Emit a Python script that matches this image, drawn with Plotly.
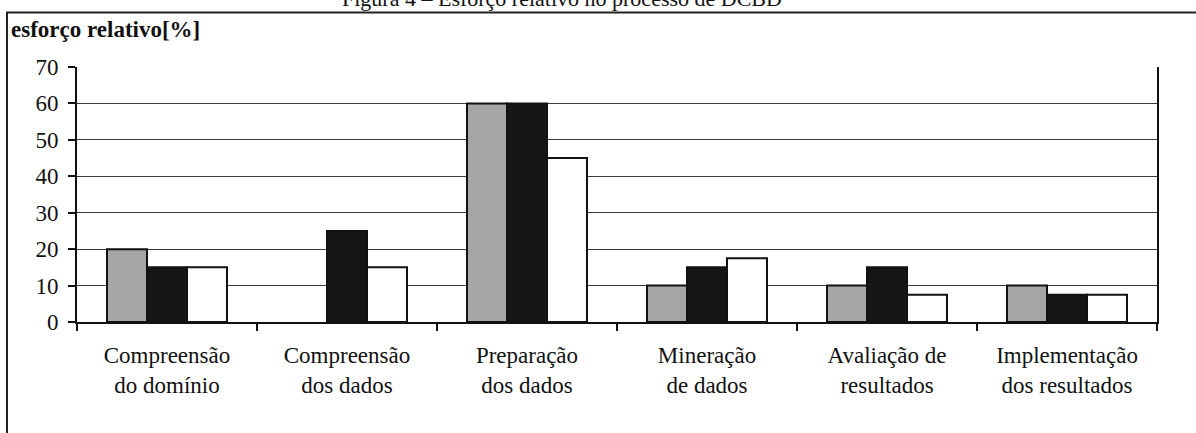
import plotly.graph_objects as go

categories = [
    "Compreensão<br>do domínio",
    "Compreensão<br>dos dados",
    "Preparação<br>dos dados",
    "Mineração<br>de dados",
    "Avaliação de<br>resultados",
    "Implementação<br>dos resultados",
]
series_gray = [20, None, 60, 10, 10, 10]
series_black = [15, 25, 60, 15, 15, 7.5]
series_white = [15, 15, 45, 17.5, 7.5, 7.5]
y_ticks = [0, 10, 20, 30, 40, 50, 60, 70]

SERIF = "Liberation Serif"

W, H = 1196, 433
L, R, T, B = 77, 39, 67, 111
PW, PH = W - L - R, H - T - B


def px_x(p):
    return (p - L) / PW


def px_y(p):
    return (H - B - p) / PH


fig = go.Figure()
for name, vals, color in [
    ("A", series_gray, "#a6a6a6"),
    ("B", series_black, "#151515"),
    ("C", series_white, "#ffffff"),
]:
    fig.add_trace(
        go.Bar(
            x=categories,
            y=vals,
            name=name,
            marker=dict(color=color, line=dict(color="#111111", width=2)),
            showlegend=False,
        )
    )

fig.update_layout(
    width=W,
    height=H,
    margin=dict(l=L, r=R, t=T, b=B),
    paper_bgcolor="white",
    plot_bgcolor="white",
    barmode="group",
    bargap=1 / 3,
    bargroupgap=0,
    font=dict(family=SERIF, color="#111111"),
)

fig.update_xaxes(
    type="category",
    showline=True,
    linecolor="#111111",
    linewidth=2,
    mirror=False,
    ticks="outside",
    tickson="boundaries",
    ticklen=7,
    tickwidth=2,
    tickcolor="#111111",
    showgrid=False,
    tickfont=dict(family=SERIF, size=23, color="#111111"),
    ticklabelstandoff=11,
)
fig.update_yaxes(
    range=[0, 70],
    tickvals=y_ticks,
    showline=True,
    linecolor="#111111",
    linewidth=2,
    mirror=True,
    ticks="outside",
    ticklen=7,
    tickwidth=2,
    tickcolor="#111111",
    showgrid=True,
    gridcolor="#3a3a3a",
    gridwidth=1,
    zeroline=False,
    tickfont=dict(family=SERIF, size=23, color="#111111"),
    ticklabelstandoff=5,
)

# caption (cut off at the top of the picture)
fig.add_annotation(
    text="Figura 4 – Esforço relativo no processo de DCBD",
    xref="paper", yref="paper",
    x=px_x(562), y=px_y(-2),
    xanchor="center", yanchor="middle",
    showarrow=False,
    font=dict(family=SERIF, size=22, color="#111111"),
)

# axis title
fig.add_annotation(
    text="<b>esforço relativo[%]</b>",
    xref="paper", yref="paper",
    x=px_x(9), y=px_y(29),
    xanchor="left", yanchor="middle",
    showarrow=False,
    font=dict(family=SERIF, size=23, color="#111111"),
)

# outer frame (left and top)
fig.add_shape(type="line", xref="paper", yref="paper",
              x0=px_x(7), x1=px_x(7), y0=px_y(12), y1=px_y(440),
              line=dict(color="#222222", width=2))
fig.add_shape(type="line", xref="paper", yref="paper",
              x0=px_x(6), x1=px_x(1200), y0=px_y(12.5), y1=px_y(12.5),
              line=dict(color="#222222", width=2))

fig.write_html(
    "out.html",
    config={"displayModeBar": False},
    post_script="document.body.style.margin='0';document.body.style.overflow='hidden';",
)
